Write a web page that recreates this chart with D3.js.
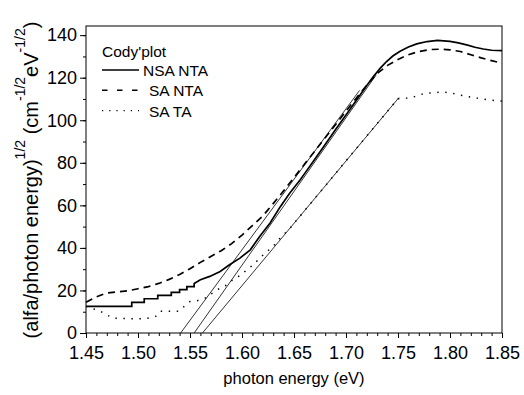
<!DOCTYPE html>
<html>
<head>
<meta charset="utf-8">
<script src="https://cdn.jsdelivr.net/npm/d3@7"></script>
<style>
  body { margin: 0; background: #fff; }
  svg { font-family: "Liberation Sans", Arial, sans-serif; }
  .axis path { stroke: none; }
  .axis line { stroke: #000; stroke-width: 1; }
  .axis text { font-size: 18px; fill: #000; }
</style>
</head>
<body>
<svg class="chart"></svg>
<script>
// x ticks / y ticks
var xTicks = [1.45, 1.50, 1.55, 1.60, 1.65, 1.70, 1.75, 1.80, 1.85];
var yTicks = [0, 20, 40, 60, 80, 100, 120, 140];

// NSA NTA (solid) - stepped at low energy
var nsaE = [1.45, 1.494, 1.494, 1.506, 1.506, 1.519, 1.519, 1.532, 1.532, 1.540, 1.540, 1.547, 1.547, 1.554, 1.554, 1.560,
            1.569, 1.579, 1.588, 1.598, 1.608, 1.617, 1.627, 1.637, 1.646, 1.656, 1.66, 1.67, 1.68, 1.69, 1.70, 1.71, 1.72,
            1.726, 1.733, 1.739, 1.745, 1.752, 1.76, 1.768, 1.778, 1.788, 1.80, 1.808, 1.816, 1.824, 1.832, 1.84, 1.85];
var nsaV = [12.5, 12.5, 14.4, 14.4, 16.1, 16.1, 17.7, 17.7, 19.1, 19.1, 20.4, 20.4, 21.8, 21.8, 23.3, 25.0,
            26.6, 28.9, 32.1, 35.2, 39.1, 45.4, 51.7, 59.5, 65.8, 72.0, 74.8, 81.7, 88.6, 95.6, 102.5, 109.4, 116.3,
            120.3, 124.5, 127.6, 130.2, 132.4, 134.4, 135.9, 137.0, 137.5, 137.1, 136.4, 135.4, 134.3, 133.5, 132.9, 132.7];

// SA NTA (dashed)
var saE = [1.45, 1.46, 1.47, 1.48, 1.49, 1.50, 1.51, 1.52, 1.53, 1.54, 1.55, 1.56, 1.57, 1.58, 1.59, 1.60, 1.61, 1.62,
           1.63, 1.64, 1.65, 1.66, 1.67, 1.68, 1.69, 1.70, 1.71, 1.72, 1.73, 1.74, 1.75, 1.76, 1.77, 1.78, 1.79, 1.80,
           1.81, 1.82, 1.83, 1.84, 1.85];
var saV = [14.5, 17.0, 18.8, 19.3, 19.8, 20.8, 21.8, 23.3, 25.2, 27.5, 30.2, 33.2, 36.0, 38.7, 42.0, 46.0, 50.5, 55.0,
           60.8, 66.8, 73.0, 79.3, 85.5, 91.8, 98.0, 104.3, 110.5, 116.5, 122.0, 125.8, 128.6, 130.8, 132.3, 133.2, 133.4, 133.1,
           132.3, 130.8, 129.3, 128.0, 126.8];

// SA TA (dotted)
var taE = [1.45, 1.456, 1.463, 1.47, 1.476, 1.485, 1.493, 1.50, 1.508, 1.517, 1.521, 1.53, 1.539, 1.550, 1.557, 1.564,
           1.576, 1.585, 1.593, 1.600, 1.605, 1.611, 1.617, 1.624, 1.630, 1.635, 1.645, 1.66, 1.68, 1.70, 1.72, 1.74, 1.75,
           1.758, 1.766, 1.774, 1.784, 1.792, 1.80, 1.808, 1.818, 1.826, 1.836, 1.85];
var taV = [12.5, 11.5, 10.5, 8.5, 7.0, 6.8, 6.7, 6.7, 6.8, 7.8, 10.2, 10.2, 10.2, 14.8, 15.2, 16.2,
           20.3, 22.5, 25.8, 27.4, 30.0, 32.0, 35.2, 38.3, 40.7, 43.8, 48.6, 57.4, 69.1, 80.9, 92.6, 104.3, 110.1,
           110.4, 111.1, 112.4, 113.0, 113.2, 113.0, 112.0, 111.1, 110.4, 109.6, 109.0];

// linear fits (Cody extrapolations), [E, value] end points
var fitDashed = [[1.541, 0], [1.713, 114.0]];
var fitSolid  = [[1.554, 0], [1.729, 121.3]];
var fitDotted = [[1.562, 0], [1.751, 110.7]];

var legendNames = ["NSA NTA", "SA NTA", "SA TA"];

const width = 524, height = 395;
const marginLeft = 86, marginRight = 22, marginTop = 26, marginBottom = 62;

var svg = d3.select(".chart").attr("width", width).attr("height", height);

var x = d3.scaleLinear().domain([1.45, 1.85]).range([marginLeft, width - marginRight]);
var y = d3.scaleLinear().domain([0, 144.3]).range([height - marginBottom, marginTop]);

// minor ticks
var xMinor = d3.range(1.45, 1.8501, 0.01);
var yMinor = d3.range(0, 141, 10);

svg.append("g").attr("class", "axis")
    .attr("transform", "translate(0," + (height - marginBottom) + ")")
    .call(d3.axisBottom(x).tickValues(xMinor).tickSize(3).tickFormat(""));
svg.append("g").attr("class", "axis")
    .attr("transform", "translate(0," + (height - marginBottom) + ")")
    .call(d3.axisBottom(x).tickValues(xTicks).tickSize(5).tickPadding(8).tickFormat(d3.format(".2f")));

svg.append("g").attr("class", "axis")
    .attr("transform", `translate(${marginLeft},0)`)
    .call(d3.axisLeft(y).tickValues(yMinor).tickSize(3).tickFormat(""));
svg.append("g").attr("class", "axis")
    .attr("transform", `translate(${marginLeft},0)`)
    .call(d3.axisLeft(y).tickValues(yTicks).tickSize(6).tickPadding(3));

// frame
svg.append("rect")
    .attr("x", x(1.45)).attr("y", y(144.3))
    .attr("width", x(1.85) - x(1.45)).attr("height", y(0) - y(144.3))
    .attr("fill", "none").attr("stroke", "#000").attr("stroke-width", 1);

var line = d3.line().x(d => x(d[0])).y(d => y(d[1]));

// fit lines (thin)
[fitDashed, fitSolid, fitDotted].forEach(f => {
    svg.append("path").attr("d", line(f))
        .attr("fill", "none").attr("stroke", "#000").attr("stroke-width", 0.8);
});

var series = [
    { e: nsaE, v: nsaV, dash: null, w: 1.7 },
    { e: saE, v: saV, dash: "7,5", w: 1.7 },
    { e: taE, v: taV, dash: "1.4,6.6", w: 1.5 }
];

series.forEach(s => {
    var pts = s.e.map((e, i) => [e, s.v[i]]);
    svg.append("path").attr("d", line(pts))
        .attr("fill", "none").attr("stroke", "#000")
        .attr("stroke-width", s.w)
        .attr("stroke-dasharray", s.dash);
});

// legend
var legend = svg.append("g").style("font-size", "15.5px");
legend.append("text").attr("x", 102).attr("y", 57).text("Cody'plot");
var legDash = [null, "5.5,9.5", "1.2,6"];
var legTextX = [143, 149, 149];
legendNames.forEach((n, i) => {
    var ly = 70 + i * 20.3;
    legend.append("line")
        .attr("x1", 102).attr("x2", 139).attr("y1", ly).attr("y2", ly)
        .attr("stroke", "#000").attr("stroke-width", i == 2 ? 1.3 : 1.5)
        .attr("stroke-dasharray", legDash[i]);
    legend.append("text").attr("x", legTextX[i]).attr("y", ly + 6).text(n);
});

// axis titles
svg.append("text")
    .attr("x", (x(1.45) + x(1.85)) / 2).attr("y", 384)
    .attr("text-anchor", "middle").style("font-size", "16.5px")
    .text("photon energy (eV)");

var yt = svg.append("text")
    .attr("transform", "translate(38,180) rotate(-90)")
    .attr("text-anchor", "middle").style("font-size", "20px");
yt.append("tspan").text("(alfa/photon energy)");
yt.append("tspan").attr("dy", -13).style("font-size", "14px").text("1/2");
yt.append("tspan").attr("dy", 13).text(" (cm");
yt.append("tspan").attr("dy", -13).style("font-size", "14px").text("-1/2");
yt.append("tspan").attr("dy", 13).text("eV");
yt.append("tspan").attr("dy", -13).style("font-size", "14px").text("-1/2");
yt.append("tspan").attr("dy", 13).text(")");
</script>
</body>
</html>
